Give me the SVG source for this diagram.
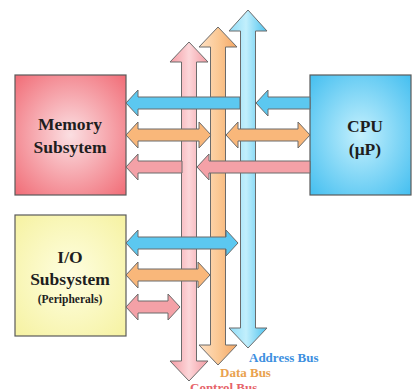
<svg xmlns="http://www.w3.org/2000/svg" width="412" height="389" viewBox="0 0 412 389">
<defs>
<radialGradient id="gMem" cx="0.5" cy="0.5" r="0.7">
<stop offset="0" stop-color="#fbdfe2"/><stop offset="1" stop-color="#f16d77"/>
</radialGradient>
<radialGradient id="gCpu" cx="0.5" cy="0.5" r="0.7">
<stop offset="0" stop-color="#c4f0fd"/><stop offset="1" stop-color="#45bff0"/>
</radialGradient>
<radialGradient id="gIo" cx="0.5" cy="0.5" r="0.7">
<stop offset="0" stop-color="#fefee0"/><stop offset="1" stop-color="#f6f2a2"/>
</radialGradient>
<linearGradient id="vPink" x1="0" y1="0" x2="1" y2="0">
<stop offset="0" stop-color="#f49aa3"/><stop offset="0.5" stop-color="#fcd6d9"/><stop offset="1" stop-color="#f39ba3"/>
</linearGradient>
<linearGradient id="vOrange" x1="0" y1="0" x2="1" y2="0">
<stop offset="0" stop-color="#fde0c4"/><stop offset="0.5" stop-color="#fbc995"/><stop offset="1" stop-color="#f4a765"/>
</linearGradient>
<linearGradient id="vBlue" x1="0" y1="0" x2="1" y2="0">
<stop offset="0" stop-color="#8fdcf7"/><stop offset="0.45" stop-color="#c2effc"/><stop offset="1" stop-color="#4cc2ee"/>
</linearGradient>
</defs>
<style>
.box{stroke:#5a5a5a;stroke-width:1.2}
.t{font-family:"Liberation Serif","Times New Roman",serif;font-weight:bold;fill:#1e1e1e;text-anchor:middle}
.arr{stroke:#6b6b6b;stroke-width:1;stroke-linejoin:miter}
.blue{fill:#5cc8f0}
.orange{fill:#f9b77a}
.pink{fill:#f4a1a7}
.lbl{font-family:"Liberation Serif","Times New Roman",serif;font-weight:bold;font-size:13px}
</style>
<rect width="412" height="389" fill="#ffffff"/>

<g id="memory">
<rect class="box" x="15" y="75" width="111" height="120" fill="url(#gMem)"/>
<text class="t" x="70" y="130" font-size="17.5">Memory</text>
<text class="t" x="70" y="153" font-size="17.5">Subsytem</text>
</g>
<g id="cpu">
<rect class="box" x="310" y="75" width="101" height="120" fill="url(#gCpu)"/>
<text class="t" x="365" y="132" font-size="17.5">CPU</text>
<text class="t" x="365" y="155" font-size="17.5">(μP)</text>
</g>
<g id="io">
<rect class="box" x="15" y="215" width="111" height="121" fill="url(#gIo)"/>
<text class="t" x="70" y="263" font-size="17.5">I/O</text>
<text class="t" x="70" y="285" font-size="17.5">Subsystem</text>
<text class="t" x="70" y="303" font-size="11.5">(Peripherals)</text>
</g>

<g id="connectors">
<g id="buses">
<polygon id="control-bus" class="arr" fill="url(#vPink)" points="189,42 208,62 196.5,62 196.5,361 208,361 189,381 170,361 181.5,361 181.5,62 170,62"/>
<polygon id="data-bus" class="arr" fill="url(#vOrange)" points="218,27 237,47 225.5,47 225.5,345 237,345 218,365 199,345 210.5,345 210.5,47 199,47"/>
<polygon id="address-bus" class="arr" fill="url(#vBlue)" points="248,10 267,31 255.5,31 255.5,328 267,328 248,348 229,328 240.5,328 240.5,31 229,31"/>
</g>
<polygon class="arr blue" points="126,103 138,90 138,97 240,97 240,109 138,109 138,116"/>
<polygon class="arr blue" points="256,103 268,90 268,97 310,97 310,109 268,109 268,116"/>
<polygon class="arr orange" points="126,135 138,122 138,129 199,129 199,122 211,135 199,148 199,141 138,141 138,148"/>
<polygon class="arr orange" points="226,135 238,122 238,129 298,129 298,122 310,135 298,148 298,141 238,141 238,148"/>
<polygon class="arr pink" points="126,167 138,154 138,161 182,161 182,173 138,173 138,180"/>
<polygon class="arr pink" points="197,167 209,154 209,161 310,161 310,173 209,173 209,180"/>
<polygon class="arr blue" points="126,243 138,230 138,237 226,237 226,230 238,243 226,256 226,249 138,249 138,256"/>
<polygon class="arr orange" points="126,275 138,262 138,269 198,269 198,262 210,275 198,288 198,281 138,281 138,288"/>
<polygon class="arr pink" points="126,307 138,294 138,301 168,301 168,294 180,307 168,320 168,313 138,313 138,320"/>
</g>

<text class="lbl" x="249" y="362" fill="#3d8fe0">Address Bus</text>
<text class="lbl" x="220" y="377" fill="#e9a24f">Data Bus</text>
<text class="lbl" x="190" y="392" fill="#e6646a">Control Bus</text>
</svg>
